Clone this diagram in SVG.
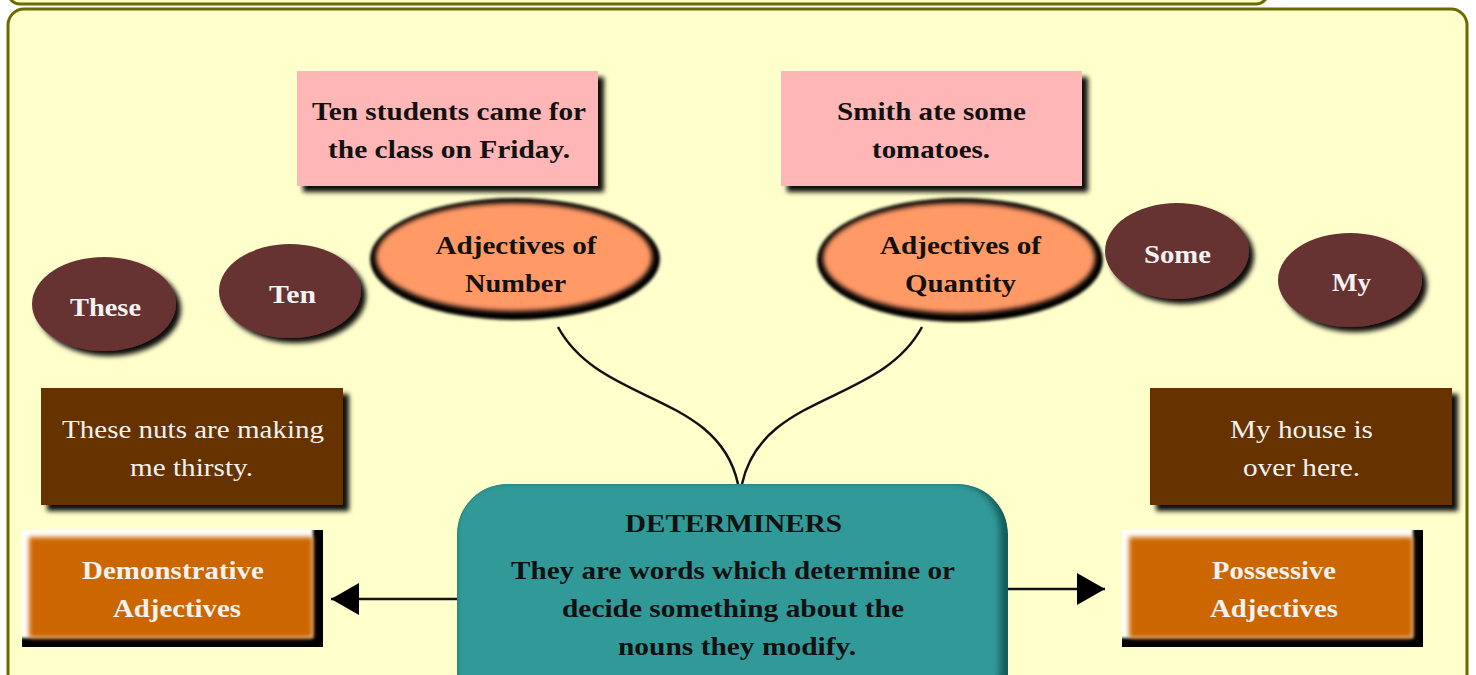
<svg xmlns="http://www.w3.org/2000/svg" width="1476" height="675" viewBox="0 0 1476 675">
<defs>
<style>
.t{font-family:"Liberation Serif","Times New Roman",serif;font-size:26px;font-weight:bold;text-anchor:middle;fill:#111}
.w{fill:#f2f2f2}
.r{font-weight:normal}
.pink{fill:#ffb6b6}
.maroon{fill:#663333}
.brown{fill:#663300}
.conn{fill:none;stroke:#111;stroke-width:2.5}
</style>
<filter id="sh" x="-10%" y="-10%" width="130%" height="140%">
<feDropShadow dx="6" dy="6" stdDeviation="2.5" flood-color="#000" flood-opacity="0.95"/>
</filter>
<filter id="sh2" x="-10%" y="-10%" width="130%" height="140%">
<feDropShadow dx="5" dy="5" stdDeviation="2.5" flood-color="#000" flood-opacity="0.95"/>
</filter>
<filter id="b2" x="-10%" y="-10%" width="120%" height="120%"><feGaussianBlur stdDeviation="2.5"/></filter>
<filter id="b3" x="-10%" y="-10%" width="120%" height="120%"><feGaussianBlur stdDeviation="3.5"/></filter>
<filter id="b1" x="-10%" y="-10%" width="120%" height="120%"><feGaussianBlur stdDeviation="1.5"/></filter>
<clipPath id="cdl"><rect x="22" y="530" width="301" height="117"/></clipPath>
<clipPath id="cdr"><rect x="1122" y="530" width="301" height="117"/></clipPath>
<clipPath id="cte"><rect x="457" y="484" width="551" height="240" rx="50"/></clipPath>
<marker id="ah" markerUnits="userSpaceOnUse" markerWidth="30" markerHeight="34" refX="28" refY="16" orient="auto">
<path d="M0,0 L28,16 L0,32 Z" fill="#000"/>
</marker>
</defs>

<g id="frame">
<rect x="8" y="-60" width="1260" height="64" rx="12" fill="#ffffcc" stroke="#6b6b00" stroke-width="3"/>
<rect x="8" y="9" width="1459" height="720" rx="16" fill="#ffffcc" stroke="#6b6b00" stroke-width="3"/>
</g>

<g id="connectors">
<path class="conn" d="M558,327 C600,405 718,392 738,484"/>
<path class="conn" d="M922,327 C880,405 762,392 742,484"/>
<path class="conn" d="M460,599 L331,599" marker-end="url(#ah)"/>
<path class="conn" d="M1008,589 L1105,589" marker-end="url(#ah)"/>
</g>

<g id="ex-number">
<rect class="pink" x="297" y="71" width="301" height="115" filter="url(#sh)"/>
<text class="t" x="449" y="120" textLength="274" lengthAdjust="spacingAndGlyphs">Ten students came for</text>
<text class="t" x="449" y="158" textLength="242" lengthAdjust="spacingAndGlyphs">the class on Friday.</text>
</g>

<g id="ex-quantity">
<rect class="pink" x="781" y="71" width="301" height="115" filter="url(#sh)"/>
<text class="t" x="931.5" y="120" textLength="189" lengthAdjust="spacingAndGlyphs">Smith ate some</text>
<text class="t" x="931" y="158" textLength="118" lengthAdjust="spacingAndGlyphs">tomatoes.</text>
</g>

<g id="adj-number">
<ellipse cx="515" cy="259" rx="145" ry="61" fill="#000" filter="url(#b1)"/>
<ellipse cx="514" cy="257" rx="138" ry="54" fill="#ff9966" filter="url(#b2)"/>
<text class="t" x="516" y="254" textLength="161" lengthAdjust="spacingAndGlyphs">Adjectives of</text>
<text class="t" x="515.5" y="292" textLength="101" lengthAdjust="spacingAndGlyphs">Number</text>
</g>

<g id="adj-quantity">
<ellipse cx="960" cy="260" rx="143" ry="62" fill="#000" filter="url(#b1)"/>
<ellipse cx="959" cy="258" rx="136" ry="55" fill="#ff9966" filter="url(#b2)"/>
<text class="t" x="960.5" y="254" textLength="161" lengthAdjust="spacingAndGlyphs">Adjectives of</text>
<text class="t" x="960.5" y="292" textLength="111" lengthAdjust="spacingAndGlyphs">Quantity</text>
</g>

<g id="these">
<ellipse class="maroon" cx="104" cy="304" rx="72" ry="47" filter="url(#sh2)"/>
<text class="t w" x="105.5" y="316" textLength="71" lengthAdjust="spacingAndGlyphs">These</text>
</g>

<g id="ten">
<ellipse class="maroon" cx="290" cy="291" rx="71" ry="47" filter="url(#sh2)"/>
<text class="t w" x="292.5" y="303" textLength="47" lengthAdjust="spacingAndGlyphs">Ten</text>
</g>

<g id="some">
<ellipse class="maroon" cx="1177" cy="251" rx="72" ry="48" filter="url(#sh2)"/>
<text class="t w" x="1177.5" y="263" textLength="67" lengthAdjust="spacingAndGlyphs">Some</text>
</g>

<g id="my">
<ellipse class="maroon" cx="1350" cy="280" rx="72" ry="47" filter="url(#sh2)"/>
<text class="t w" x="1351.5" y="291" textLength="39" lengthAdjust="spacingAndGlyphs">My</text>
</g>

<g id="ex-demonstrative">
<rect class="brown" x="41" y="388" width="302" height="117" filter="url(#sh)"/>
<text class="t w r" x="193" y="438" textLength="262" lengthAdjust="spacingAndGlyphs">These nuts are making</text>
<text class="t w r" x="191.5" y="476" textLength="123" lengthAdjust="spacingAndGlyphs">me thirsty.</text>
</g>

<g id="ex-possessive">
<rect class="brown" x="1150" y="388" width="302" height="117" filter="url(#sh)"/>
<text class="t w r" x="1301.5" y="438" textLength="143" lengthAdjust="spacingAndGlyphs">My house is</text>
<text class="t w r" x="1301.5" y="476" textLength="117" lengthAdjust="spacingAndGlyphs">over here.</text>
</g>

<g id="demonstrative">
<g clip-path="url(#cdl)">
<rect x="22" y="530" width="301" height="117" fill="#000"/>
<rect x="18" y="526" width="295" height="112" fill="#fff" filter="url(#b1)"/>
<rect x="29" y="537" width="284" height="101" fill="#cc6600" filter="url(#b2)"/>
</g>
<text class="t w" x="173" y="579" textLength="182" lengthAdjust="spacingAndGlyphs">Demonstrative</text>
<text class="t w" x="177" y="617" textLength="128" lengthAdjust="spacingAndGlyphs">Adjectives</text>
</g>

<g id="possessive">
<g clip-path="url(#cdr)">
<rect x="1122" y="530" width="301" height="117" fill="#000"/>
<rect x="1118" y="526" width="295" height="112" fill="#fff" filter="url(#b1)"/>
<rect x="1129" y="537" width="284" height="101" fill="#cc6600" filter="url(#b2)"/>
</g>
<text class="t w" x="1274" y="579" textLength="124" lengthAdjust="spacingAndGlyphs">Possessive</text>
<text class="t w" x="1274" y="617" textLength="128" lengthAdjust="spacingAndGlyphs">Adjectives</text>
</g>

<g id="determiners">
<g clip-path="url(#cte)">
<rect x="457" y="484" width="551" height="240" rx="50" fill="#145a5a"/>
<rect x="455" y="482" width="545" height="236" rx="48" fill="#339999" filter="url(#b3)"/>
</g>
<text class="t" x="733.5" y="532" textLength="217" lengthAdjust="spacingAndGlyphs">DETERMINERS</text>
<text class="t" x="733" y="579" textLength="444" lengthAdjust="spacingAndGlyphs">They are words which determine or</text>
<text class="t" x="733" y="617" textLength="342" lengthAdjust="spacingAndGlyphs">decide something about the</text>
<text class="t" x="737" y="655" textLength="238" lengthAdjust="spacingAndGlyphs">nouns they modify.</text>
</g>
</svg>
